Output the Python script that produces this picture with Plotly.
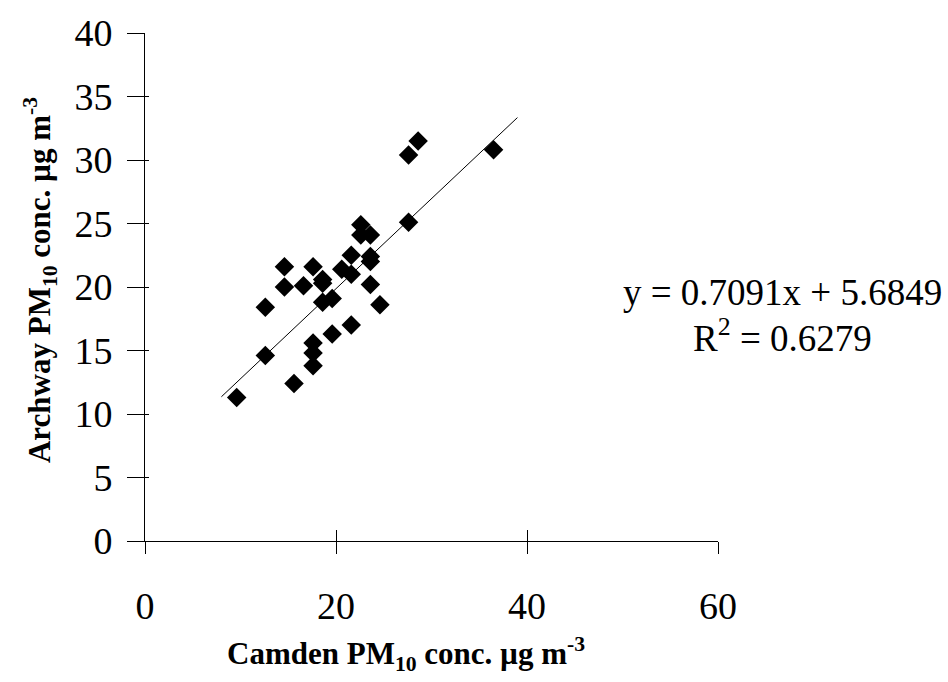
import plotly.graph_objects as go

# Data
camden = [28.6, 27.6, 36.5, 27.6, 22.6, 22.6, 23.6, 21.6, 23.6, 23.6, 14.6, 17.6, 20.6, 21.6,
          18.6, 14.6, 16.6, 18.6, 23.6, 12.6, 18.6, 19.6, 24.6, 21.6, 19.6, 17.6, 17.6, 17.6,
          12.6, 15.6, 9.6]
archway = [31.5, 30.4, 30.8, 25.1, 24.9, 24.1, 24.1, 22.5, 22.4, 22.0, 21.6, 21.6, 21.4, 21.0,
           20.6, 20.0, 20.1, 20.3, 20.2, 18.4, 18.8, 19.1, 18.6, 17.0, 16.3, 15.6, 14.8, 13.8,
           14.6, 12.4, 11.3]
slope = 0.7091
intercept = 5.6849
r2 = 0.6279
trend_x = [8, 39]
trend_y = [slope * v + intercept for v in trend_x]
x_ticks = [0, 20, 40, 60]
y_ticks = [0, 5, 10, 15, 20, 25, 30, 35, 40]

FONT = "Liberation Serif"
TICK_SIZE = 38
EQ_SIZE = 37
TITLE_SIZE = 31

fig = go.Figure()
fig.add_trace(go.Scatter(x=trend_x, y=trend_y, mode="lines",
                         line=dict(color="black", width=1), showlegend=False))
fig.add_trace(go.Scatter(x=camden, y=archway, mode="markers",
                         marker=dict(symbol="diamond", size=15, color="black"),
                         showlegend=False))
# invisible trace on overlay axes for inside tick halves
fig.add_trace(go.Scatter(x=[None], y=[None], xaxis="x2", yaxis="y2", showlegend=False))

axis_common = dict(showgrid=False, zeroline=False, linecolor="black", linewidth=1,
                   tickcolor="black", tickwidth=1,
                   tickfont=dict(family=FONT, size=TICK_SIZE, color="black"))
fig.update_layout(
    width=948, height=682,
    margin=dict(l=145, r=230, t=33, b=141),
    paper_bgcolor="white", plot_bgcolor="white",
    font=dict(family=FONT, color="black", size=TICK_SIZE),
    xaxis=dict(range=[0, 60], tickvals=x_ticks, ticks="outside", ticklen=12,
               showline=True, ticklabelstandoff=19, **axis_common),
    yaxis=dict(range=[0, 40], tickvals=y_ticks, ticks="outside", ticklen=17,
               showline=True, ticklabelstandoff=7, **axis_common),
    xaxis2=dict(range=[0, 60], tickvals=x_ticks, ticks="inside", ticklen=11,
                overlaying="x", showticklabels=False, showline=False,
                showgrid=False, zeroline=False, tickcolor="black"),
    yaxis2=dict(range=[0, 40], tickvals=y_ticks, ticks="inside", ticklen=4,
                overlaying="y", showticklabels=False, showline=False,
                showgrid=False, zeroline=False, tickcolor="black"),
    annotations=[
        dict(text="y = 0.7091x + 5.6849", xref="paper", yref="paper", x=1.112, y=0.49,
             showarrow=False, xanchor="center", yanchor="middle",
             font=dict(family=FONT, size=EQ_SIZE)),
        dict(text="R<sup>2</sup> = 0.6279", xref="paper", yref="paper", x=1.112, y=0.405,
             showarrow=False, xanchor="center", yanchor="middle",
             font=dict(family=FONT, size=EQ_SIZE)),
        dict(text="<b>Camden PM<sub>10</sub> conc. µg m<sup>-3</sup></b>", xref="paper",
             yref="paper", x=0.455, y=-0.222, showarrow=False, xanchor="center",
             yanchor="middle", font=dict(family=FONT, size=TITLE_SIZE)),
        dict(text="<b>Archway PM<sub>10</sub> conc. µg m<sup>-3</sup></b>", xref="paper",
             yref="paper", x=-0.183, y=0.514, textangle=-90, showarrow=False,
             xanchor="center", yanchor="middle", font=dict(family=FONT, size=TITLE_SIZE)),
    ],
)

fig.write_html("out.html")
